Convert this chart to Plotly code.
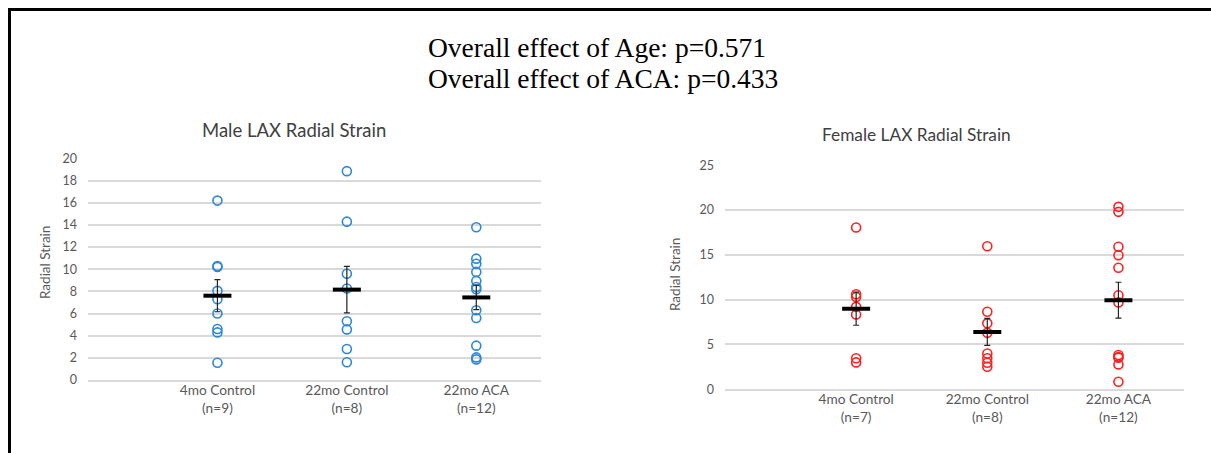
import numpy as np
import plotly.graph_objects as go

W, H = 1211, 453

categories = ["4mo Control", "22mo Control", "22mo ACA"]
male_n = [9, 8, 12]
female_n = [7, 8, 12]

male_4mo = [16.2, 10.3, 10.2, 8.05, 7.3, 6.0, 4.6, 4.3, 1.56]
male_22mo = [18.86, 14.3, 9.6, 8.26, 5.3, 4.57, 2.8, 1.6]
male_aca = [13.8, 10.96, 10.5, 9.76, 8.95, 8.4, 8.2, 6.3, 5.6, 3.1, 2.04, 1.86]
male_sem = [1.45, 2.1, 1.1]

female_4mo = [18.06, 10.6, 10.3, 9.2, 8.36, 3.46, 3.0]
female_22mo = [15.97, 8.65, 7.36, 6.3, 4.0, 3.46, 2.97, 2.52]
female_aca = [20.36, 19.8, 15.9, 14.97, 13.56, 10.5, 9.7, 3.83, 3.6, 3.52, 2.78, 0.85]
female_sem = [1.85, 1.5, 2.0]

male_ticks = list(range(0, 21, 2))
female_ticks = list(range(0, 26, 5))

title_lines = ["Overall effect of Age: p=0.571", "Overall effect of ACA: p=0.433"]


def px(x):
    return x / W


def py(y):
    return 1 - y / H


BLUE = "#2E87D6"
RED = "#FF2020"
GRID = "#D9D9D9"
TICKC = "#595959"
FONT = "Lato"

fig = go.Figure()


def add_panel(groups, sem, color, xa, ya):
    for i, vals in enumerate(groups):
        fig.add_trace(go.Scatter(
            x=[i + 1] * len(vals), y=vals, mode="markers",
            marker=dict(symbol="circle-open", size=9, color=color, line=dict(width=1.6, color=color)),
            xaxis=xa, yaxis=ya, showlegend=False, hoverinfo="y"))
    means = [float(np.mean(v)) for v in groups]
    fig.add_trace(go.Scatter(
        x=[1, 2, 3], y=means, mode="markers",
        marker=dict(symbol="line-ew", size=20, line=dict(width=4, color="black")),
        error_y=dict(type="data", array=sem, visible=True, color="#222222", thickness=1.2, width=3),
        xaxis=xa, yaxis=ya, showlegend=False))


add_panel([male_4mo, male_22mo, male_aca], male_sem, BLUE, "x", "y")
add_panel([female_4mo, female_22mo, female_aca], female_sem, RED, "x2", "y2")

male_text = [f"{c}<br>(n={n})" for c, n in zip(categories, male_n)]
female_text = [f"{c}<br>(n={n})" for c, n in zip(categories, female_n)]

xcommon = dict(range=[0, 3.5], tickvals=[1, 2, 3], showgrid=False, zeroline=False,
               showline=True, linecolor=GRID, linewidth=1.5, ticks="", automargin=False,
               ticklabelstandoff=-3,
               tickfont=dict(family=FONT, size=13.7, color=TICKC), fixedrange=True)
ycommon = dict(showgrid=True, gridcolor=GRID, gridwidth=1.5, zeroline=False, showline=False,
               ticks="", ticklabelstandoff=10, automargin=False,
               tickfont=dict(family=FONT, size=12.5, color=TICKC), fixedrange=True)

fig.update_layout(
    template="none",
    width=W, height=H, autosize=False,
    margin=dict(l=0, r=0, t=0, b=0, pad=0),
    paper_bgcolor="white", plot_bgcolor="white",
    xaxis=dict(domain=[px(88), px(541)], ticktext=male_text, anchor="y", **xcommon),
    yaxis=dict(domain=[py(380), py(158.3)], range=[0, 20.02], tickvals=male_ticks, anchor="x", **ycommon),
    xaxis2=dict(domain=[px(725), px(1184)], ticktext=female_text, anchor="y2", **xcommon),
    yaxis2=dict(domain=[py(389.3), py(165)], range=[0, 25.03], tickvals=female_ticks, anchor="x2", **ycommon),
)

ann = []
ann.append(dict(text=title_lines[0], x=px(426), y=py(48), xanchor="left", yanchor="middle",
                font=dict(family="Liberation Serif", size=27.5, color="black")))
ann.append(dict(text=title_lines[1], x=px(426), y=py(78), xanchor="left", yanchor="middle",
                font=dict(family="Liberation Serif", size=27.5, color="black")))
ann.append(dict(text="Male LAX Radial Strain", x=px(294), y=py(130), xanchor="center", yanchor="middle",
                font=dict(family=FONT, size=18.5, color="#404040")))
ann.append(dict(text="Female LAX Radial Strain", x=px(916), y=py(135), xanchor="center", yanchor="middle",
                font=dict(family=FONT, size=17.3, color="#404040")))
ann.append(dict(text="Radial Strain", x=px(45), y=py(263), xanchor="center", yanchor="middle", textangle=-90,
                font=dict(family=FONT, size=13.5, color=TICKC)))
ann.append(dict(text="Radial Strain", x=px(675), y=py(275), xanchor="center", yanchor="middle", textangle=-90,
                font=dict(family=FONT, size=13.5, color=TICKC)))
for a in ann:
    a.update(xref="paper", yref="paper", showarrow=False)
fig.update_layout(annotations=ann)

fig.update_layout(shapes=[
    dict(type="line", xref="paper", yref="paper", x0=px(8), x1=1, y0=py(9.5), y1=py(9.5),
         line=dict(color="black", width=3)),
    dict(type="line", xref="paper", yref="paper", x0=px(9.5), x1=px(9.5), y0=py(8), y1=0,
         line=dict(color="black", width=3)),
])

fig.write_html("out.html")
